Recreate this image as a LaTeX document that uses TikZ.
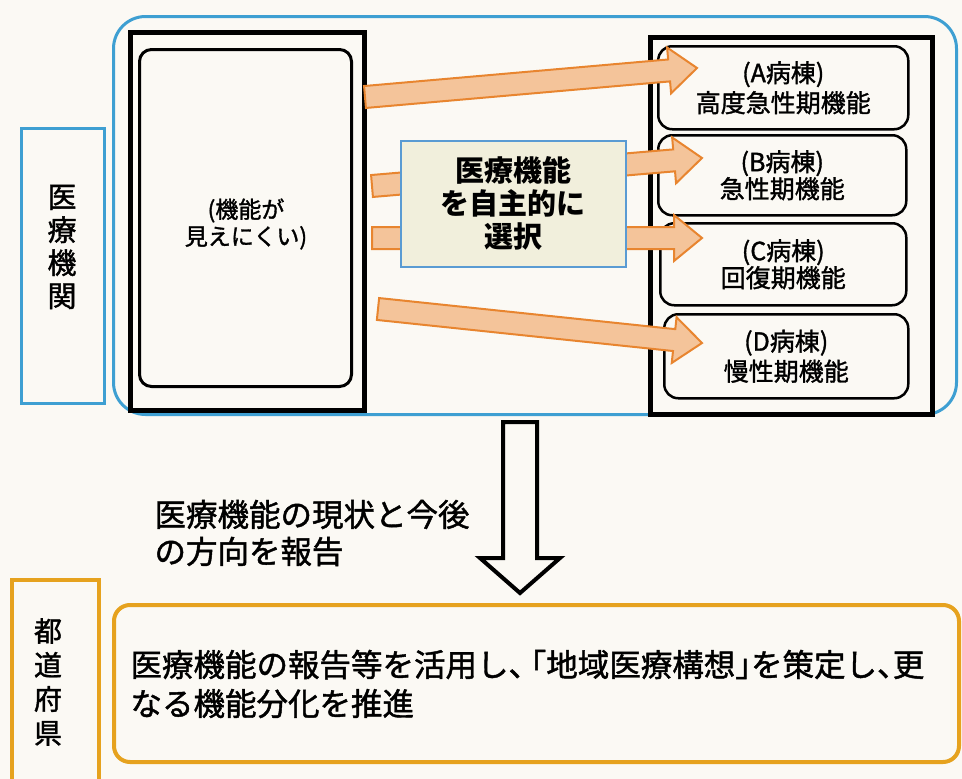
\documentclass[tikz,border=0pt]{standalone}
\usepackage{fontspec}
\setmainfont{Noto Sans CJK JP}[UprightFeatures={FakeBold=1.4}]
\usetikzlibrary{calc}
\definecolor{bg}{HTML}{FBF9F4}
\definecolor{skyb}{HTML}{3E9FD2}
\definecolor{gold}{HTML}{E6A21E}
\definecolor{arrfill}{HTML}{F4C49A}
\definecolor{arrline}{HTML}{E8852F}
\definecolor{boxfill}{HTML}{F1EFDC}
\definecolor{boxline}{HTML}{5A9BD3}
\newcommand\fatarr[2]{%
  \coordinate (fah) at ($(#2)!28pt!(#1)$);
  \draw[fatarrow]
   ($(#1)!11pt!90:(#2)$) -- ($(fah)!11pt!90:(#2)$) -- ($(fah)!23pt!90:(#2)$) -- (#2)
   -- ($(fah)!23pt!-90:(#2)$) -- ($(fah)!11pt!-90:(#2)$) -- ($(#1)!11pt!-90:(#2)$) -- cycle;}
\begin{document}
\begin{tikzpicture}[x=1pt,y=-1pt,
  box/.style={draw, inner sep=0pt, anchor=north west},
  fatarrow/.style={draw=arrline, fill=arrfill, line width=2pt, line join=miter}]
\useasboundingbox (0,0) rectangle (962,779);
\fill[bg] (0,0) rectangle (962,779);
% outer institution frame
\node[box, draw=skyb, line width=3pt, rounded corners=32pt, minimum width=843pt, minimum height=398pt] (outer) at (112,15) {};
\node[box, draw=skyb, line width=3pt, minimum width=83pt, minimum height=275pt] (instlab) at (20,127) {};
\node[align=center, font=\fontsize{29}{33}\selectfont] (insttxt) at (62,247) {医\\療\\機\\関};
% left box
\node[box, line width=5pt, minimum width=234pt, minimum height=378pt] (lbox) at (128,30) {};
\node[box, line width=3pt, rounded corners=12pt, minimum width=212pt, minimum height=337pt] (linner) at (138,48) {};
\node[align=center, font=\fontsize{23}{27}\selectfont] (ltxt) at (246,224) {(機能が\\見えにくい)};
% right box
\node[box, line width=5pt, minimum width=282pt, minimum height=377pt] (rbox) at (648,35) {};
\node[box, line width=2.5pt, rounded corners=14pt, minimum width=250pt, minimum height=83pt, align=center, font=\fontsize{25}{30}\selectfont] (ba) at (657,45) {(A病棟)\\高度急性期機能};
\node[box, line width=2.5pt, rounded corners=14pt, minimum width=248pt, minimum height=80pt, align=center, font=\fontsize{25}{27}\selectfont] (bb) at (657,134) {(B病棟)\\急性期機能};
\node[box, line width=2.5pt, rounded corners=14pt, minimum width=246pt, minimum height=82pt, align=center, font=\fontsize{25}{27}\selectfont] (bc) at (659,222) {(C病棟)\\回復期機能};
\node[box, line width=2.5pt, rounded corners=14pt, minimum width=244pt, minimum height=84pt, align=center, font=\fontsize{25}{30}\selectfont] (bd) at (663,313) {(D病棟)\\慢性期機能};
% arrows
\coordinate (s1) at (365,97);  \coordinate (t1) at (697,68);
\coordinate (s2) at (372,186); \coordinate (t2) at (702,158);
\coordinate (s3) at (372,238); \coordinate (t3) at (702,238);
\coordinate (s4) at (378,309); \coordinate (t4) at (702,343);
\fatarr{s1}{t1}
\fatarr{s2}{t2}
\fatarr{s3}{t3}
\fatarr{s4}{t4}
% centre box
\node[box, draw=boxline, fill=boxfill, line width=1.5pt, minimum width=225pt, minimum height=126pt, align=center, font=\bfseries\fontsize{29}{33}\selectfont] (cbox) at (400,140) {医療機能\\を自主的に\\選択};
% down arrow
\draw[line width=4pt, fill=bg, line join=miter] (503,422) -- (503,558) -- (480,558) -- (520,593) -- (560,558) -- (537,558) -- (537,422) -- cycle;
\node[anchor=west, align=left, font=\fontsize{31.5}{37}\selectfont] (report) at (151,533) {医療機能の現状と今後\\の方向を報告};
% prefecture
\node[box, draw=gold, line width=3.5pt, minimum width=87pt, minimum height=215pt] (preflab) at (10,578) {};
\node[align=center, font=\fontsize{28}{34}\selectfont] (preftxt) at (48,682) {都\\道\\府\\県};
\node[box, draw=gold, line width=4pt, rounded corners=16pt, minimum width=845pt, minimum height=157pt] (pbox) at (112,603) {};
\node[anchor=west, align=left, font=\fontsize{31.5}{39}\selectfont] (ptxt) at (127,684) {医療機能の報告等を活用し、\kern-.8em「地域医療構想」\kern-.5em を策定し、\kern-.5em 更\\なる機能分化を推進};
\end{tikzpicture}
\end{document}
